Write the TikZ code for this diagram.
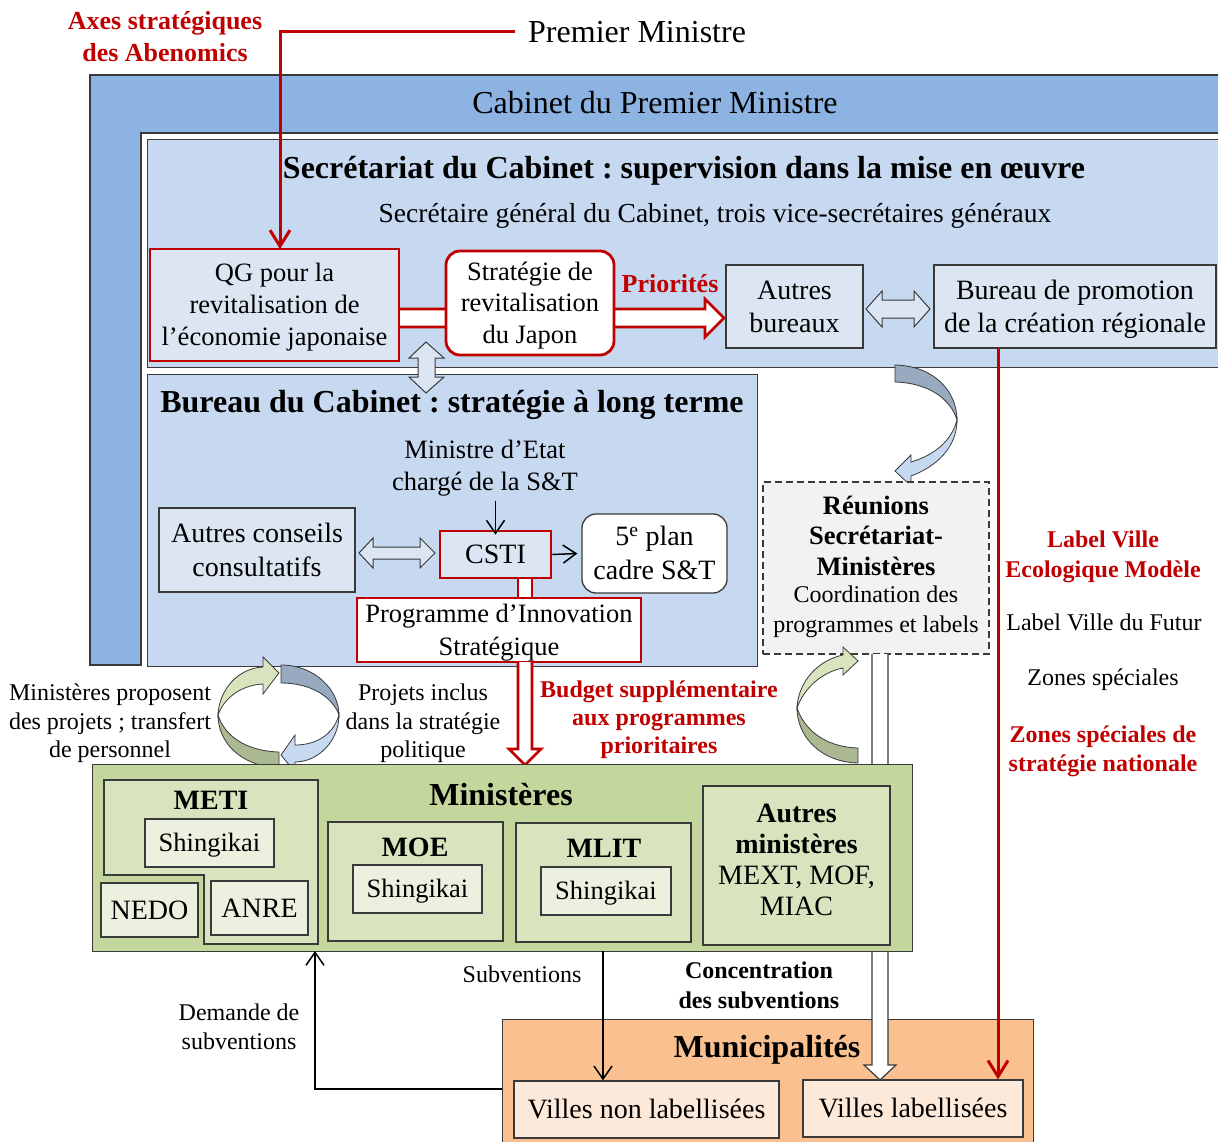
\documentclass[tikz,border=0pt]{standalone}
\usepackage{fontspec}
\setmainfont{Liberation Serif}
\usetikzlibrary{arrows.meta}
\frenchspacing
\definecolor{dred}{HTML}{C00000}
\definecolor{bandblue}{HTML}{8DB3E2}
\definecolor{secblue}{HTML}{C6D9F1}
\definecolor{boxblue}{HTML}{DCE6F2}
\definecolor{grayblue}{HTML}{97AAC0}
\definecolor{mingreen}{HTML}{C3D69B}
\definecolor{midgreen}{HTML}{D7E4BD}
\definecolor{palegreen}{HTML}{EBF1DE}
\definecolor{darkgreen}{HTML}{ABB993}
\definecolor{munorange}{HTML}{FAC090}
\definecolor{paleorange}{HTML}{FDE9D9}
\definecolor{reungray}{HTML}{F2F2F2}
\definecolor{edge}{HTML}{3A3A3A}
\newcommand\FS[2]{\fontsize{#1}{#2}\selectfont}
\newcommand\wst{\rule[-0.26em]{0pt}{1.185em}}
\begin{document}
\begin{tikzpicture}[x=1pt,y=-1pt,
  bx/.style={draw=edge, line width=1.3pt, inner sep=0pt, align=center},
  redbx/.style={draw=dred, line width=2.8pt, inner sep=0pt, align=center},
  txt/.style={inner sep=0pt, align=center},
  redln/.style={draw=dred, line width=3pt},
  blk/.style={draw=edge, line width=1pt, fill=boxblue},
  curv/.style={draw=edge, line width=0.8pt},
  barb/.style={-{Straight Barb[length=13pt,width=18pt]}, line width=1.5pt},
  redbarb/.style={-{Straight Barb[length=16pt,width=20pt]}}
]
\clip (0,0) rectangle (1218,1142);
% Cabinet band
\path[draw=edge, line width=1.3pt, fill=bandblue] (90,75) -- (1230,75) -- (1230,133) -- (141,133) -- (141,665) -- (90,665) -- cycle;
\node[txt, font=\FS{32}{38}] (tcab) at (655,103) {\wst Cabinet du Premier Ministre};
% Secretariat and Bureau
\node[draw=edge, line width=1.3pt, fill=secblue, minimum width=1083pt, minimum height=228pt, anchor=north west] (sec) at (147,139) {};
\node[draw=edge, line width=1.3pt, fill=secblue, minimum width=610pt, minimum height=292pt, anchor=north west] (bur) at (147,374) {};
\node[txt, font=\FS{32}{38}\bfseries] (tsec) at (684,168) {\wst Secrétariat du Cabinet : supervision dans la mise en œuvre};
\node[txt, font=\FS{27.5}{33}] (tsg) at (715,213) {\wst Secrétaire général du Cabinet, trois vice-secrétaires généraux};
\node[txt, font=\FS{32}{38}\bfseries] (tbur) at (452,402) {\wst Bureau du Cabinet : stratégie à long terme};
% top labels
\node[txt, font=\FS{32}{38}, anchor=west] (pm) at (528,32) {\wst Premier Ministre};
\node[txt, font=\FS{26}{30}\bfseries, text=dred] (axes) at (165,37) {\wst Axes stratégiques\\des Abenomics\wst};
% Secretariat row
\path[fill=white] (399,309) rectangle (705,327);
\draw[redln, line width=2.8pt, fill=white] (399,309) -- (705,309) -- (705,299) -- (724,318) -- (705,337) -- (705,327) -- (399,327);
\node[redbx, fill=boxblue, minimum width=249pt, minimum height=112pt, font=\FS{26.5}{32}] (qg) at (274.5,305) {\wst QG pour la\\revitalisation de\\l’économie japonaise\wst};
\node[redbx, fill=white, rounded corners=14pt, minimum width=168pt, minimum height=104pt, font=\FS{26.5}{31.5}] (strat) at (530,303) {\wst Stratégie de\\revitalisation\\du Japon\wst};
\node[txt, font=\FS{26}{30}\bfseries, text=dred] (prio) at (670,284) {\wst Priorités};
\node[bx, fill=boxblue, minimum width=137pt, minimum height=83pt, font=\FS{28}{33.4}] (ab) at (794.5,306.5) {\wst Autres\\bureaux\wst};
\node[bx, fill=boxblue, minimum width=282pt, minimum height=83pt, font=\FS{28}{33.4}] (bp) at (1075,306.5) {\wst Bureau de promotion\\de la création régionale\wst};
\draw[blk] (866,309) -- (882,291) -- (882,300) -- (914,300) -- (914,291) -- (930,309) -- (914,327) -- (914,318) -- (882,318) -- (882,327) -- cycle;
% red line from Premier Ministre
\coordinate (pmin) at (515,32);
\coordinate (qgin) at (280,249);
\draw[redln, redbarb] (pmin) -| (qgin);
% vertical double arrow
\draw[blk] (426,342) -- (444,358) -- (435,358) -- (435,377) -- (444,377) -- (426,393) -- (409,377) -- (418,377) -- (418,358) -- (409,358) -- cycle;
% Bureau content
\node[txt, font=\FS{26.5}{30}] (mne) at (485,465.5) {\wst Ministre d’Etat\\chargé de la S\&T\wst};
\node[bx, fill=boxblue, minimum width=196pt, minimum height=84pt, font=\FS{28}{33}] (acc) at (257,550) {\wst Autres conseils\\consultatifs\wst};
\path[fill=white] (518,575) rectangle (532,600);
\draw[draw=dred, line width=2.8pt] (518,575) -- (518,600) (532,575) -- (532,600);
\node[redbx, fill=boxblue, minimum width=111pt, minimum height=47pt, font=\FS{28}{33}] (csti) at (495.5,554.5) {\wst CSTI};
\node[bx, fill=white, rounded corners=14pt, minimum width=145pt, minimum height=79pt, font=\FS{28}{32}] (plan) at (654.5,553.5) {\wst 5\textsuperscript{e} plan\\cadre S\&T\wst};
\node[redbx, fill=white, minimum width=284pt, minimum height=64pt, font=\FS{26.5}{31}] (pis) at (499,630) {\wst Programme d’Innovation\\Stratégique\wst};
\draw[barb] (csti.north |- mne.south) ++(0,3) -- ([yshift=-5pt]csti.north);
\draw[barb] (csti.east) -- ([xshift=-4pt]plan.west);
\draw[blk] (359,553) -- (373,538) -- (373,547) -- (420,547) -- (420,538) -- (435,553) -- (420,568) -- (420,559) -- (373,559) -- (373,568) -- cycle;
% top-right curved arrow
\path[curv, fill=grayblue] (895,365) .. controls (935,366) and (957,392) .. (957,420) .. controls (951,400) and (930,383) .. (895,382) -- cycle;
\path[curv, fill=secblue] (957,420) .. controls (957,446) and (938,466) .. (911,476) -- (911,486) -- (895,471) -- (911,455) -- (911,462) .. controls (935,455) and (952,440) .. (957,420) -- cycle;
% Reunions
\node[draw=edge, line width=1.3pt, dashed, dash pattern=on 7pt off 4pt, fill=reungray, minimum width=226pt, minimum height=172pt] (reun) at (876,568) {};
\node[txt, font=\FS{26.5}{30.3}\bfseries] (reunt) at (876,536) {\wst Réunions\\Secrétariat-\\Ministères\wst};
\node[txt, font=\FS{24}{28.3}] (reunc) at (876,609.5) {\wst Coordination des\\programmes et labels\wst};
% right labels
\node[txt, font=\FS{24}{28}\bfseries, text=dred] (lvem) at (1103,554.5) {\wst Label Ville\\Ecologique Modèle\wst};
\node[txt, font=\FS{24}{28}] (lvf) at (1104,623) {\wst Label Ville du Futur};
\node[txt, font=\FS{24}{28}] (zs) at (1103,678) {\wst Zones spéciales};
\node[txt, font=\FS{24}{28}\bfseries, text=dred] (zssn) at (1103,749) {\wst Zones spéciales de\\stratégie nationale\wst};
% Programme -> Ministeres arrow
\draw[redln, line width=2.8pt, fill=white] (518,662) -- (518,749) -- (509,749) -- (525,765) -- (541,749) -- (532,749) -- (532,662);
\node[txt, font=\FS{24}{28}\bfseries, text=dred] (budget) at (659,718) {\wst Budget supplémentaire\\aux programmes\\prioritaires\wst};
% left texts
\node[txt, font=\FS{24}{28.5}] (mpp) at (110,721.5) {\wst Ministères proposent\\des projets ; transfert\\de personnel\wst};
\node[txt, font=\FS{24}{28.5}] (pids) at (423,721.5) {\wst Projets inclus\\dans la stratégie\\politique\wst};
% circular arrows
\path[curv, fill=darkgreen] (279,768) .. controls (240,766) and (218,742) .. (218,715) .. controls (225,737) and (247,751) .. (279,752) -- cycle;
\path[curv, fill=midgreen] (218,715) .. controls (219,690) and (238,668) .. (263,667) -- (263,657) -- (279,673) -- (263,694) -- (263,684) .. controls (243,685) and (225,696) .. (218,715) -- cycle;
\path[curv, fill=grayblue] (281,665) .. controls (315,665) and (339,690) .. (339,715) .. controls (332,696) and (310,683) .. (281,683) -- cycle;
\path[curv, fill=secblue] (339,715) .. controls (339,741) and (318,762) .. (295,762) -- (295,772) -- (281,755) -- (295,735) -- (295,745) .. controls (316,745) and (333,735) .. (339,715) -- cycle;
% right green arrow
\path[curv, fill=darkgreen] (858,763) .. controls (820,762) and (797,736) .. (797,708) .. controls (805,731) and (826,747) .. (858,748) -- cycle;
\path[curv, fill=midgreen] (797,708) .. controls (798,682) and (818,660) .. (843,655) -- (843,647) -- (858,661) -- (843,675) -- (843,668) .. controls (822,672) and (804,688) .. (797,708) -- cycle;
% Municipalites
\node[draw=edge, line width=1.3pt, fill=munorange, minimum width=531pt, minimum height=140pt, anchor=north west] (mun) at (502,1019) {};
\node[txt, font=\FS{32}{38}\bfseries] (munt) at (767,1047) {\wst Municipalités};
\node[bx, fill=paleorange, minimum width=265pt, minimum height=57pt, font=\FS{28}{33}] (vnl) at (646.5,1109.5) {\wst Villes non labellisées};
\node[bx, fill=paleorange, minimum width=220pt, minimum height=57pt, font=\FS{28}{33}] (vl) at (913,1108.5) {\wst Villes labellisées};
% white arrow Reunions -> Villes labellisees
\path[fill=white] (872,654) -- (872,1065) -- (864,1065) -- (880,1080) -- (896,1065) -- (888,1065) -- (888,654) -- cycle;
\draw[draw=edge, line width=1.2pt] (872,654) -- (872,1065) -- (864,1065) -- (880,1080) -- (896,1065) -- (888,1065) -- (888,654);
% Ministeres
\node[draw=edge, line width=1.3pt, fill=mingreen, minimum width=820pt, minimum height=187pt, anchor=north west] (min) at (92,764) {};
\node[txt, font=\FS{32}{38}\bfseries] (mint) at (501,795) {\wst Ministères};
\path[draw=edge, line width=1.3pt, fill=midgreen] (104,780) -- (318,780) -- (318,944) -- (204,944) -- (204,875) -- (104,875) -- cycle;
\node[txt, font=\FS{28}{33}\bfseries] (meti) at (211,800) {\wst METI};
\node[bx, fill=palegreen, minimum width=129pt, minimum height=48pt, font=\FS{26.5}{31}] (shm) at (209.5,843) {\wst Shingikai};
\node[bx, fill=palegreen, minimum width=97pt, minimum height=54pt, font=\FS{28}{33}] (nedo) at (149.5,910) {\wst NEDO};
\node[bx, fill=palegreen, minimum width=97pt, minimum height=54pt, font=\FS{28}{33}] (anre) at (259.5,908) {\wst ANRE};
\node[draw=edge, line width=1.3pt, fill=midgreen, minimum width=175pt, minimum height=119pt] (moe) at (415.5,881.5) {};
\node[txt, font=\FS{28}{33}\bfseries] (moet) at (415,847) {\wst MOE};
\node[bx, fill=palegreen, minimum width=129pt, minimum height=48pt, font=\FS{26.5}{31}] (sho) at (417.5,889) {\wst Shingikai};
\node[draw=edge, line width=1.3pt, fill=midgreen, minimum width=175pt, minimum height=119pt] (mlit) at (603.5,882.5) {};
\node[txt, font=\FS{28}{33}\bfseries] (mlitt) at (604,848) {\wst MLIT};
\node[bx, fill=palegreen, minimum width=130pt, minimum height=48pt, font=\FS{26.5}{31}] (shl) at (606,891) {\wst Shingikai};
\node[draw=edge, line width=1.3pt, fill=midgreen, minimum width=187pt, minimum height=159pt] (am) at (796.5,865.5) {};
\node[txt, font=\FS{28}{30.8}] (amt) at (796.5,859.5) {\wst\textbf{Autres}\\\textbf{ministères}\\MEXT, MOF,\\MIAC\wst};
% red label line
\coordinate (rtop) at (998,348);
\draw[redln, redbarb] (rtop) -- (rtop |- vl.north);
% subventions
\coordinate (sub1) at (603,951);
\draw[barb] (sub1) -- (sub1 |- vnl.north);
\node[txt, font=\FS{24}{28}] (subt) at (522,975) {\wst Subventions};
\node[txt, font=\FS{24}{27.5}\bfseries] (conc) at (759,985.5) {\wst Concentration\\des subventions\wst};
% demande
\coordinate (dm) at (502,1089);
\coordinate (dmtop) at (315,951);
\draw[barb] (dm) -| (dmtop);
\node[txt, font=\FS{24}{26.5}] (dmt) at (239,1027) {\wst Demande de\\subventions\wst};
\end{tikzpicture}
\end{document}
